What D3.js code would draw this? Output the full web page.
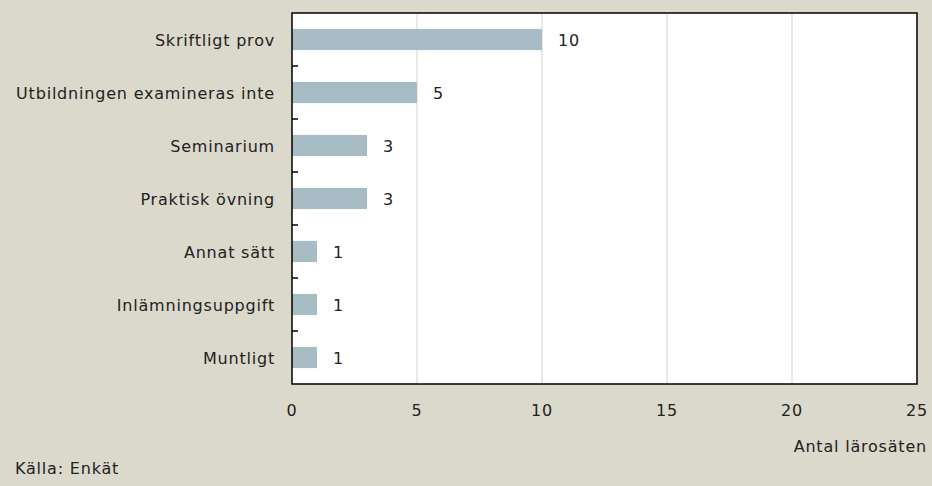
<!DOCTYPE html>
<html>
<head>
<meta charset="utf-8">
<script src="https://cdn.jsdelivr.net/npm/d3@7"></script>
<style>
body{margin:0;background:#dbd8cc;}
svg{display:block;font-family:"DejaVu Sans",sans-serif;letter-spacing:0.8px;}
</style>
</head>
<body>
<svg id="chart"></svg>
<script>
var categories = ["Skriftligt prov","Utbildningen examineras inte","Seminarium","Praktisk övning","Annat sätt","Inlämningsuppgift","Muntligt"];
var values = [10,5,3,3,1,1,1];
var xTicks = [0,5,10,15,20,25];

var screen = {width:932,height:486};
var margins = {left:292,right:15,top:13,bottom:102};
var graph = {
    width:screen.width-margins.left-margins.right,
    height:screen.height-margins.top-margins.bottom
};
var fontSize = 16;

var svg = d3.select("#chart")
    .attr("width",screen.width)
    .attr("height",screen.height);

svg.append("rect")
    .attr("width",screen.width)
    .attr("height",screen.height)
    .attr("fill","#dbd8cc");

var xScale = d3.scaleLinear().domain([0,25]).range([0,graph.width]);
var yScale = d3.scaleBand().domain(categories).range([0,graph.height]).paddingInner(0.6).paddingOuter(0.3);
var yBand = d3.scaleBand().domain(categories).range([0,graph.height]);

var target = svg.append("g")
    .attr("transform","translate("+margins.left+","+margins.top+")");

target.append("rect")
    .attr("width",graph.width)
    .attr("height",graph.height)
    .attr("fill","#ffffff");

// gridlines
target.selectAll("line.grid")
    .data(xTicks.slice(1,-1))
    .enter()
    .append("line")
    .attr("class","grid")
    .attr("x1",function(d){return xScale(d);})
    .attr("x2",function(d){return xScale(d);})
    .attr("y1",0)
    .attr("y2",graph.height)
    .attr("stroke","#d6d3c6")
    .attr("stroke-width",1);

// bars
target.selectAll("rect.bar")
    .data(values)
    .enter()
    .append("rect")
    .attr("class","bar")
    .attr("x",0)
    .attr("y",function(d,i){return yScale(categories[i]);})
    .attr("width",function(d){return xScale(d);})
    .attr("height",yScale.bandwidth())
    .attr("fill","#a8bcc6");

// value labels
target.selectAll("text.val")
    .data(values)
    .enter()
    .append("text")
    .attr("class","val")
    .attr("x",function(d){return xScale(d)+16;})
    .attr("y",function(d,i){return yScale(categories[i])+yScale.bandwidth()/2;})
    .attr("dy","0.38em")
    .attr("font-size",fontSize)
    .attr("fill","#222")
    .text(function(d){return d;});

// category labels
target.selectAll("text.cat")
    .data(categories)
    .enter()
    .append("text")
    .attr("class","cat")
    .attr("x",-17)
    .attr("y",function(d){return yBand(d)+yBand.bandwidth()/2;})
    .attr("dy","0.38em")
    .attr("text-anchor","end")
    .attr("font-size",fontSize)
    .attr("fill","#222")
    .text(function(d){return d;});

// tick marks between categories (inside)
target.selectAll("line.tick")
    .data(categories.slice(1))
    .enter()
    .append("line")
    .attr("class","tick")
    .attr("x1",0)
    .attr("x2",6)
    .attr("y1",function(d){return yBand(d);})
    .attr("y2",function(d){return yBand(d);})
    .attr("stroke","#000")
    .attr("stroke-width",1.5);

// frame
target.append("rect")
    .attr("width",graph.width)
    .attr("height",graph.height)
    .attr("fill","none")
    .attr("stroke","#000")
    .attr("stroke-width",1.5);

// x tick labels
target.selectAll("text.xt")
    .data(xTicks)
    .enter()
    .append("text")
    .attr("class","xt")
    .attr("x",function(d){return xScale(d);})
    .attr("y",graph.height+32)
    .attr("text-anchor","middle")
    .attr("font-size",fontSize)
    .attr("fill","#222")
    .text(function(d){return d;});

svg.append("text")
    .attr("x",927)
    .attr("y",452)
    .attr("text-anchor","end")
    .attr("font-size",fontSize)
    .attr("fill","#222")
    .text("Antal lärosäten");

svg.append("text")
    .attr("x",15)
    .attr("y",474)
    .attr("font-size",fontSize)
    .attr("fill","#222")
    .text("Källa: Enkät");
</script>
</body>
</html>
